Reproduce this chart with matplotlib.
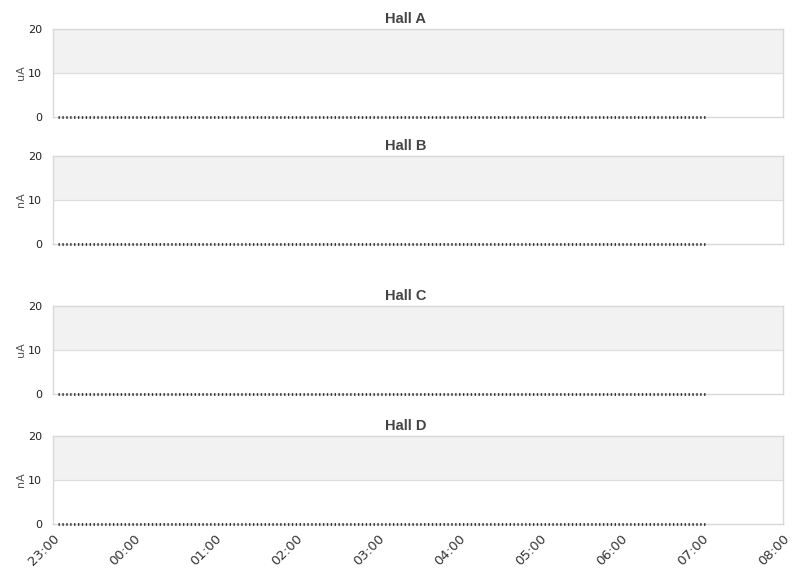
import numpy as np
import pandas as pd
import matplotlib
matplotlib.use("Agg")
import matplotlib.pyplot as plt
import matplotlib.dates as mdates

# panels
halls = ["Hall A", "Hall B", "Hall C", "Hall D"]
units = ["uA", "nA", "uA", "nA"]
bottoms = [0.7976, 0.5779, 0.3183, 0.0934]

# beam current readings, one per minute, all zero over the night
times = pd.date_range("2024-01-01 23:04", "2024-01-02 07:03", freq="1min")
currents = {h: [0.0] * len(times) for h in halls}

x_start = pd.Timestamp("2024-01-01 23:00")
x_end = pd.Timestamp("2024-01-02 08:00")
hour_ticks = pd.date_range(x_start, x_end, freq="1h")

fig = plt.figure(figsize=(8.11, 5.78), dpi=100)

for i, hall in enumerate(halls):
    ax = fig.add_axes([0.0654, bottoms[i], 0.9001, 0.1522])
    ax.set_xlim(x_start, x_end)
    ax.set_ylim(0, 20)
    # alternating bands
    ax.axhspan(10, 20, color="#f2f2f2", zorder=0)
    ax.axhline(10, color="#dddddd", lw=0.8, zorder=1)
    ax.plot(times, currents[hall], color="#333333", lw=2.0,
            linestyle=(0, (0.5, 0.9)), zorder=3, clip_on=False)
    for s in ax.spines.values():
        s.set_color("#d8d8d8")
        s.set_linewidth(1)
    ax.set_yticks([0, 10, 20])
    ax.tick_params(axis="y", length=0, labelsize=8, colors="#222222", pad=8)
    ax.set_xticks(hour_ticks)
    ax.xaxis.set_major_formatter(mdates.DateFormatter("%H:%M"))
    ax.tick_params(axis="x", length=0, labelsize=9.5, colors="#333333", pad=6)
    if i < 3:
        ax.set_xticklabels([])
    else:
        for lbl in ax.get_xticklabels():
            lbl.set_rotation(45)
            lbl.set_ha("right")
            lbl.set_rotation_mode("anchor")
    ax.set_ylabel(units[i], fontsize=8, color="#555555", labelpad=1)
    ax.set_title(hall, x=0.483, fontsize=10.5, fontweight="bold",
                 color="#444444", pad=4, family="Liberation Sans")

plt.savefig("out.png", dpi=100)
